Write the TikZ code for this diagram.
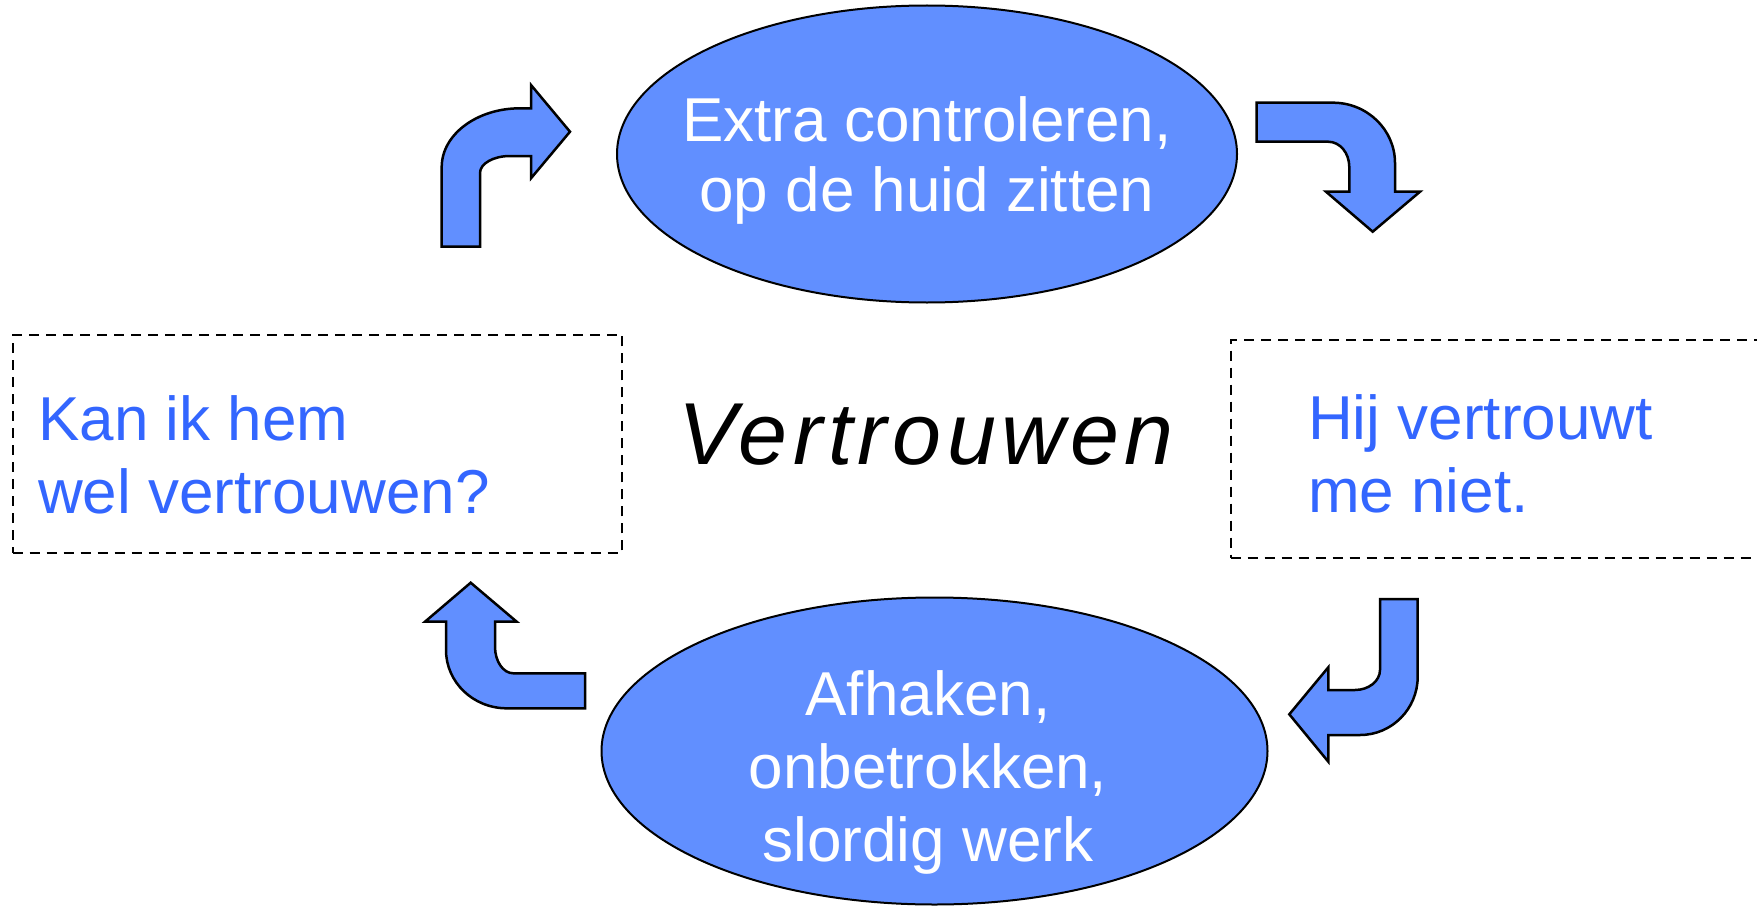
\documentclass[tikz,border=0pt]{standalone}
\usepackage{fontspec}
\setmainfont{Liberation Sans}
\usetikzlibrary{shapes.geometric}
\definecolor{ellfill}{RGB}{97,143,255}
\definecolor{txtblue}{RGB}{51,102,255}
\tikzset{
  bubble/.style={ellipse, draw=black, line width=2pt, fill=ellfill, inner sep=0pt},
  bubbletext/.style={text=white, align=center, inner sep=0pt, font=\fontsize{62}{70}\selectfont},
  dashbox/.style={draw=black, line width=2pt, dash pattern=on 10pt off 7pt, inner sep=0pt},
  boxtext/.style={text=txtblue, align=left, inner sep=0pt, anchor=west, font=\fontsize{62}{73.3}\selectfont},
  bentarrow/.style={fill=ellfill, draw=black, line width=2.5pt, line join=miter},
}
\begin{document}
\begin{tikzpicture}[x=1pt,y=-1pt]
\useasboundingbox (0,0) rectangle (1757,907);
% ellipses
\node[bubble, minimum width=620pt, minimum height=297pt] (top) at (927,154) {};
\node[bubbletext] (toptext) at (927,160) {Extra controleren,\\op de huid zitten};
\node[bubble, minimum width=666pt, minimum height=307pt] (bot) at (934.5,751) {};
\node[bubbletext, font=\fontsize{62}{73}\selectfont] (bottext) at (928,772) {Afhaken,\\onbetrokken,\\slordig werk};
% dashed boxes
\node[dashbox, minimum width=609.6pt, minimum height=217.7pt] (lbox) at (317.5,443.85) {};
\node[boxtext] (ltext) at (38,454.5) {Kan ik hem\\wel vertrouwen?};
\node[dashbox, minimum width=540pt, minimum height=218.3pt] (rbox) at (1500.5,449.15) {};
\node[boxtext] (rtext) at (1308,454) {Hij vertrouwt\\me niet.};
% centre word
\node[inner sep=0pt, font=\fontsize{88}{100}\selectfont\itshape\addfontfeatures{LetterSpace=6.2}] (centre) at (926,434.5) {Vertrouwen};
% bent arrows
\draw[bentarrow] (441.7,246.7) -- (441.7,167) .. controls (441.7,134.6) and (476.8,108.3) .. (520,108.3)
  -- (531,108.3) -- (531,85) -- (570,131.7) -- (531,178.3) -- (531,156) -- (510,156)
  .. controls (493.4,156) and (480,163.6) .. (480,173) -- (480,246.7) -- cycle;
\draw[bentarrow] (1256.7,102.7) -- (1333,102.7) .. controls (1367.2,102.7) and (1395,129.8) .. (1395,163)
  -- (1395,191.7) -- (1420,191.7) -- (1372.7,231.7) -- (1326,191.7) -- (1349.3,191.7) -- (1349.3,167)
  .. controls (1349.3,153) and (1340,141.7) .. (1328,141.7) -- (1256.7,141.7) -- cycle;
\draw[bentarrow] (1380,599) -- (1417.7,599) -- (1417.7,676.7) .. controls (1417.7,708.9) and (1391.9,735) .. (1360,735)
  -- (1328.3,735) -- (1328.3,761.7) -- (1289.3,714.3) -- (1328.3,667.3) -- (1328.3,690) -- (1355,690)
  .. controls (1368.8,690) and (1380,681) .. (1380,670) -- cycle;
\draw[bentarrow] (585,673.3) -- (585,708.3) -- (506.7,708.3) .. controls (473.2,708.3) and (446,682.2) .. (446,650)
  -- (446,621.7) -- (425,621.7) -- (470.7,582.7) -- (516.7,621.7) -- (495,621.7) -- (495,646.7)
  .. controls (495,661.4) and (503.2,673.3) .. (513.3,673.3) -- cycle;
\end{tikzpicture}
\end{document}
